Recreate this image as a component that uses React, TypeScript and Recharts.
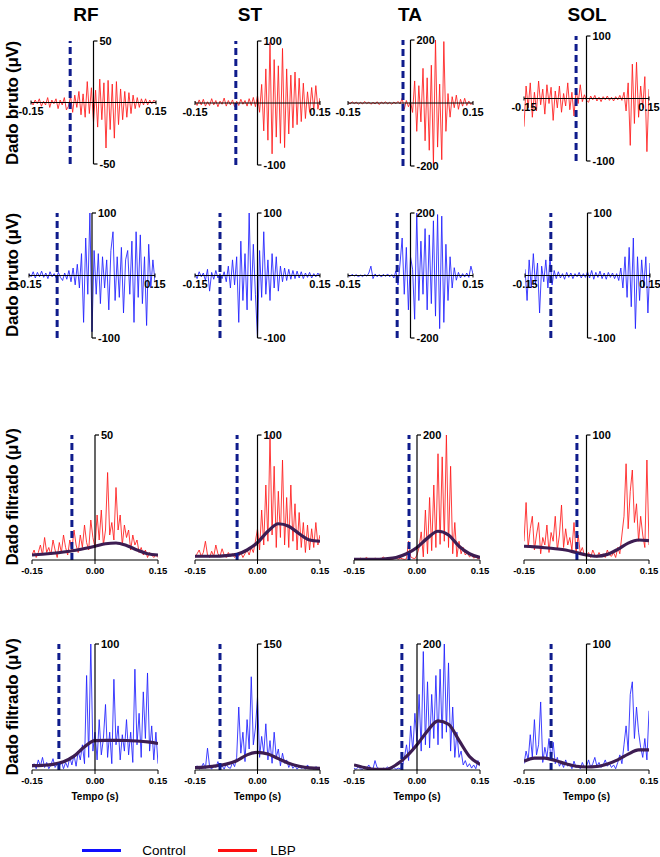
import { LineChart, Line, XAxis, YAxis, ReferenceLine } from 'recharts';

// sampling grid of the EMG windows (s)
const TIME = Array.from({ length: 61 }, (_, i) => Math.round((-0.15 + i * 0.005) * 1000) / 1000);
const ENV_TIME = [-0.15, -0.125, -0.1, -0.075, -0.05, -0.025, 0, 0.025, 0.05, 0.075, 0.1, 0.125, 0.15];

const MUSCLES = ['RF', 'ST', 'TA', 'SOL'];
const RAW_RANGE_LBP = [50, 100, 200, 100];
const RAW_RANGE_CTL = [100, 100, 200, 100];
const FIL_TOP_LBP = [50, 100, 200, 100];
const FIL_TOP_CTL = [100, 150, 200, 100];
const X_TICKS = [-0.15, 0, 0.15];

const ONSET_RAW_LBP = [-0.056, -0.052, -0.018, -0.025];
const ONSET_RAW_CTL = [-0.083, -0.09, -0.032, -0.088];
const ONSET_FIL_LBP = [-0.055, -0.049, -0.019, -0.023];
const ONSET_FIL_CTL = [-0.086, -0.09, -0.036, -0.085];

// raw signal, LBP (uV)
const RF_RAW_LBP = [1, -2, 2, -1, 3, -3, 1, -2, 4, -4, 2, -1, 3, -5, 2, -2, 4, -6, -3, 5, -8, 6, -4, 9, -10, 7, -12, 17, -9, 12, -16, 10, -20, 19, -14, 16, -37, 18, -22, 15, -29, 17, -18, 11, -14, 9, -12, 8, -9, 6, -5, 4, -4, 3, -2, 3, -2, 2, -1, 2, 0];
const ST_RAW_LBP = [3, -4, 5, -3, 6, -5, 2, -4, 7, -3, 4, -6, 3, -2, 8, -5, 4, -3, 5, -6, 3, -4, 6, -2, 4, -5, 7, -4, 9, -6, 12, -15, 30, -45, 55, -60, 98, -82, 70, -55, 60, -65, 88, -72, 55, -50, 45, -40, 50, -35, 40, -30, 32, -25, 18, -15, 25, -12, 28, -10, 8];
const TA_RAW_LBP = [2, -3, 4, -2, 3, -4, 2, -3, 5, -2, 3, -4, 2, -3, 4, -5, 3, -2, 4, -3, 2, -4, 3, -2, 5, -3, 15, -20, 8, -12, 5, -30, 70, -90, 55, -60, 110, -120, 80, -150, 120, -195, 200, -140, 60, -180, 195, -90, 30, -45, 20, -15, 25, -20, 12, -10, 15, -8, 6, -5, 3];
const SOL_RAW_LBP = [-45, 20, -15, 25, -30, 10, -20, 28, -10, 15, -25, 22, -8, 18, -35, 12, -15, 20, -22, 8, -12, 25, -18, 10, -28, 15, -8, 22, -5, 6, -3, -6, 4, -2, 5, -4, 2, -5, 3, -2, 4, -3, 2, -4, 3, -2, 5, -3, 10, -20, 25, -75, 55, -40, 58, -30, 20, -15, 35, -85, 15];

// raw signal, control (uV)
const RF_RAW_CTL = [3, -2, 6, -4, 5, -2, 7, -3, 4, -5, 6, -2, 3, -4, 5, -3, -8, 4, -6, 8, -10, 12, -15, 18, -20, 35, -75, 60, -30, 100, -90, 40, -30, 35, -45, 30, -20, 25, -55, 40, 70, -40, 30, -35, 45, -60, 25, 40, -30, 55, -75, 70, -35, 65, -45, 30, -80, 50, -20, 25, -10];
const ST_RAW_CTL = [3, -5, 6, -2, 4, -8, 10, -25, 5, -6, 8, -4, 3, -5, 6, -10, 15, -20, 25, -15, 30, -75, 55, -40, 35, -55, 100, -40, 50, -30, -100, 40, -35, 70, -30, 25, -40, 35, -20, 30, -25, 15, -10, 12, -8, 10, -6, 8, -5, 7, -4, 6, -5, 4, -3, 5, -4, 3, -2, 4, -2];
const TA_RAW_CTL = [2, -3, 4, -2, 3, -5, 2, -4, 3, -2, 8, 30, -10, 5, -4, 3, -5, 4, -3, 5, -4, 3, -8, 15, -30, 40, 120, -60, 90, -110, 60, 20, -140, 200, -80, 110, -60, 150, -110, 130, -90, 175, -130, 195, -170, 190, -150, 100, -80, 60, -40, 25, -15, 10, -8, 6, -5, 8, -6, 30, 5];
const SOL_RAW_CTL = [10, -40, 25, -20, 35, -15, 20, -60, 15, -10, 25, -20, 30, -15, 8, -5, 6, -4, 3, -6, 5, -3, 4, -5, 3, -2, 5, -4, 3, -3, 6, -4, 8, -6, 5, -3, 7, -5, 4, -6, 5, -3, 4, -5, 3, -8, 12, -20, 30, -35, 45, -50, 60, -85, 30, -40, 25, -20, 30, -60, 20];

// filtered signal, LBP (uV)
const RF_FIL_LBP = [2, 4, 1, 3, 6, 2, 9, 3, 5, 2, 8, 4, 1, 7, 3, 10, 5, 2, 8, 4, 12, 6, 3, 10, 5, 14, 7, 4, 16, 9, 5, 18, 8, 20, 6, 12, 35, 10, 15, 8, 29, 12, 18, 6, 14, 9, 12, 4, 10, 6, 8, 3, 5, 2, 4, 1, 3, 2, 1, 2, 1];
const ST_FIL_LBP = [2, 5, 8, 3, 6, 15, 4, 2, 7, 3, 12, 5, 3, 9, 4, 2, 6, 3, 5, 2, 4, 3, 6, 2, 5, 8, 4, 10, 6, 15, 25, 8, 40, 12, 60, 15, 100, 20, 75, 10, 55, 18, 80, 12, 50, 10, 60, 15, 45, 8, 38, 10, 30, 6, 28, 8, 25, 10, 30, 12, 20];
const TA_FIL_LBP = [1, 2, 1, 3, 1, 2, 4, 1, 2, 1, 3, 2, 1, 2, 5, 1, 2, 3, 1, 2, 4, 1, 3, 2, 1, 2, 30, 5, 3, 2, 8, 20, 45, 5, 80, 10, 100, 15, 120, 20, 170, 25, 165, 30, 200, 20, 150, 10, 60, 5, 30, 10, 20, 8, 12, 5, 8, 3, 5, 2, 3];
const SOL_FIL_LBP = [15, 46, 10, 25, 35, 8, 20, 30, 5, 18, 12, 28, 6, 22, 15, 35, 8, 20, 44, 10, 25, 12, 18, 8, 30, 5, 20, 6, 10, 4, 3, 6, 2, 8, 4, 2, 6, 3, 5, 2, 8, 4, 3, 6, 2, 10, 5, 20, 35, 77, 25, 55, 72, 30, 45, 15, 35, 20, 10, 80, 12];

// filtered signal, control (uV)
const RF_FIL_CTL = [2, 5, 1, 8, 3, 10, 2, 6, 1, 4, 9, 2, 5, 3, 7, 1, 6, 2, 10, 4, 12, 3, 15, 8, 20, 5, 75, 10, 100, 15, 30, 8, 40, 12, 25, 52, 10, 30, 5, 72, 20, 35, 8, 28, 15, 40, 12, 30, 6, 80, 20, 45, 10, 62, 25, 77, 15, 35, 8, 30, 5];
const ST_FIL_CTL = [2, 5, 1, 3, 8, 2, 26, 4, 1, 6, 3, 10, 2, 5, 1, 7, 3, 2, 9, 4, 15, 75, 20, 45, 10, 60, 25, 111, 30, 50, 87, 15, 40, 20, 55, 12, 35, 8, 45, 15, 25, 5, 20, 8, 12, 3, 8, 2, 5, 1, 4, 2, 3, 1, 6, 2, 3, 1, 4, 2, 3];
const TA_FIL_CTL = [3, 1, 5, 2, 1, 4, 2, 8, 3, 1, 15, 4, 2, 1, 3, 2, 5, 1, 2, 4, 1, 3, 2, 6, 20, 40, 15, 70, 30, 90, 45, 120, 30, 188, 40, 140, 35, 120, 50, 150, 40, 160, 50, 200, 60, 170, 30, 100, 20, 60, 20, 30, 8, 15, 5, 10, 3, 8, 2, 15, 6];
const SOL_FIL_CTL = [5, 15, 8, 28, 10, 40, 12, 20, 54, 6, 18, 10, 25, 8, 22, 5, 10, 3, 6, 2, 8, 3, 5, 1, 7, 2, 4, 1, 6, 2, 3, 8, 2, 5, 10, 3, 6, 2, 4, 8, 3, 5, 2, 4, 1, 6, 12, 5, 20, 35, 15, 60, 70, 25, 50, 30, 18, 10, 25, 8, 47];

// smoothed envelopes on ENV_TIME
const RF_ENV_LBP = [2, 2.3, 2.7, 3.2, 3.8, 4.6, 5.5, 6.5, 6.8, 5.8, 4, 2.5, 2];
const ST_ENV_LBP = [3, 3, 3, 3.5, 4.5, 8, 14, 23, 29, 27, 21, 16, 15];
const TA_ENV_LBP = [1, 1, 1, 2, 4, 10, 20, 35, 46, 40, 22, 10, 4];
const SOL_ENV_LBP = [11, 10.5, 9.8, 9, 8, 6, 4, 3, 4.5, 8.5, 13.5, 16, 15.5];
const RF_ENV_CTL = [3.4, 3.7, 4.5, 6.6, 11, 18.5, 23.3, 23.5, 23.5, 23.4, 23, 22.3, 21];
const ST_ENV_CTL = [3, 3.5, 5, 7, 11, 18, 21, 19, 13.5, 8, 4.5, 2.5, 2];
const TA_ENV_CTL = [8, 3.8, 1, 1, 8, 21.5, 40, 62, 78, 72.6, 47, 21.5, 9];
const SOL_ENV_CTL = [7, 9.5, 9.5, 7.5, 5, 3, 2.4, 2.8, 4.8, 8, 12.6, 15.9, 16];

const RAW_LBP = [RF_RAW_LBP, ST_RAW_LBP, TA_RAW_LBP, SOL_RAW_LBP];
const RAW_CTL = [RF_RAW_CTL, ST_RAW_CTL, TA_RAW_CTL, SOL_RAW_CTL];
const FIL_LBP = [RF_FIL_LBP, ST_FIL_LBP, TA_FIL_LBP, SOL_FIL_LBP];
const FIL_CTL = [RF_FIL_CTL, ST_FIL_CTL, TA_FIL_CTL, SOL_FIL_CTL];
const ENV_LBP = [RF_ENV_LBP, ST_ENV_LBP, TA_ENV_LBP, SOL_ENV_LBP];
const ENV_CTL = [RF_ENV_CTL, ST_ENV_CTL, TA_ENV_CTL, SOL_ENV_CTL];

const RED = '#ff1a1a';
const BLUE = '#1f1fff';
const ONSET_COLOR = '#0f1c8c';
const ENV_COLOR = '#3d1d52';

const ML = 26;
const MR = 32;
const MT = 10;
const MB = 24;

// plot boxes (left, top, width, height) per row/column
const ROW1_BOX = [[31, 41, 125, 123], [195, 41, 125, 124], [348, 40, 125, 126], [524, 36, 125, 125]];
const ROW2_BOX = [[29, 213, 126, 125], [195, 213, 125, 125], [348, 213, 125, 125], [525, 213, 125, 125]];
const ROW3_BOX = [[32, 435, 126, 125], [195, 435, 125, 125], [354, 435, 126, 125], [524, 435, 125, 125]];
const ROW4_BOX = [[32, 644, 126, 126], [195, 644, 125, 126], [354, 644, 126, 126], [524, 644, 125, 126]];

interface PanelProps {
  box: number[];
  values: number[];
  envelope?: number[];
  color: string;
  lo: number;
  hi: number;
  onset: number;
  filtered: boolean;
}

function Panel({ box, values, envelope, color, lo, hi, onset, filtered }: PanelProps) {
  const [x, y, w, h] = box;
  const data = TIME.map((t, i) => ({ t, v: values[i] }));
  const env = envelope ? ENV_TIME.map((t, i) => ({ t, v: envelope[i] })) : null;
  const dx = (0.3 * 4) / w;
  const dy = ((hi - lo) * 4) / h;
  const yFont = { fontSize: 11, fontWeight: 700, fill: '#000' };
  const xFont = filtered ? { fontSize: 9.5, fontWeight: 700, fill: '#000' } : yFont;

  return (
    <div style={{ position: 'absolute', left: x - ML, top: y - MT }}>
      <LineChart width={w + ML + MR} height={h + MT + MB} margin={{ top: MT, right: MR, bottom: MB, left: ML }}>
        <XAxis type="number" dataKey="t" domain={[-0.15, 0.15]} hide allowDataOverflow />
        <YAxis type="number" domain={[lo, hi]} hide allowDataOverflow />
        <Line data={data} dataKey="v" type="linear" stroke={color} strokeWidth={0.85} dot={false} isAnimationActive={false} />
        {env && (
          <Line data={env} dataKey="v" type="monotone" stroke={ENV_COLOR} strokeWidth={3.2} dot={false} isAnimationActive={false} />
        )}
        <ReferenceLine x={onset} stroke={ONSET_COLOR} strokeWidth={3} strokeDasharray="7 4" ifOverflow="visible" />
        <ReferenceLine y={0} stroke="#000" strokeWidth={1.2} ifOverflow="visible" />
        {filtered
          ? X_TICKS.map((t) => (
              <ReferenceLine
                key={t}
                segment={[{ x: t, y: 0 }, { x: t, y: -dy }]}
                stroke="#000"
                ifOverflow="visible"
                label={{ value: t.toFixed(2), position: 'bottom', offset: 3, ...xFont }}
              />
            ))
          : [-0.15, 0.15].map((t) => (
              <ReferenceLine
                key={t}
                segment={[{ x: t, y: -dy / 2 }, { x: t, y: dy / 2 }]}
                stroke="#000"
                ifOverflow="visible"
                label={{ value: t.toFixed(2), position: 'bottom', offset: 3, ...xFont }}
              />
            ))}
        <ReferenceLine segment={[{ x: 0, y: filtered ? 0 : lo }, { x: 0, y: hi }]} stroke="#000" strokeWidth={1.2} ifOverflow="visible" />
        <ReferenceLine
          segment={[{ x: 0, y: hi }, { x: dx, y: hi }]}
          stroke="#000"
          strokeWidth={1.2}
          ifOverflow="visible"
          label={{ value: String(hi), position: 'right', offset: 2, ...yFont }}
        />
        {!filtered && (
          <ReferenceLine
            segment={[{ x: 0, y: lo }, { x: dx, y: lo }]}
            stroke="#000"
            strokeWidth={1.2}
            ifOverflow="visible"
            label={{ value: String(lo), position: 'right', offset: 2, ...yFont }}
          />
        )}
      </LineChart>
    </div>
  );
}

const centerText = (left: number, top: number, style: React.CSSProperties = {}): React.CSSProperties => ({
  position: 'absolute',
  left,
  top,
  transform: 'translate(-50%, -50%)',
  whiteSpace: 'nowrap',
  ...style,
});

const rowLabel = (top: number): React.CSSProperties => ({
  position: 'absolute',
  left: 13,
  top,
  transform: 'translate(-50%, -50%) rotate(-90deg)',
  whiteSpace: 'nowrap',
  fontSize: 17,
  fontWeight: 700,
  letterSpacing: -0.3,
});

const TITLE_X = [86, 250, 410, 587];

export default function App() {
  return (
    <div
      style={{
        position: 'absolute',
        left: 0,
        top: 0,
        width: 660,
        height: 857,
        background: '#fff',
        fontFamily: '"Liberation Sans", Arial, sans-serif',
        color: '#000',
        overflow: 'hidden',
      }}
    >
      {MUSCLES.map((m, i) => (
        <div key={m} style={centerText(TITLE_X[i], 15, { fontSize: 19, fontWeight: 700 })}>
          {m}
        </div>
      ))}

      <div style={rowLabel(103)}>Dado bruto (μV)</div>
      <div style={rowLabel(275)}>Dado bruto (μV)</div>
      <div style={rowLabel(497)}>Dado filtrado (μV)</div>
      <div style={rowLabel(707)}>Dado filtrado (μV)</div>

      {MUSCLES.map((m, i) => (
        <Panel key={'r1' + m} box={ROW1_BOX[i]} values={RAW_LBP[i]} color={RED} lo={-RAW_RANGE_LBP[i]} hi={RAW_RANGE_LBP[i]} onset={ONSET_RAW_LBP[i]} filtered={false} />
      ))}
      {MUSCLES.map((m, i) => (
        <Panel key={'r2' + m} box={ROW2_BOX[i]} values={RAW_CTL[i]} color={BLUE} lo={-RAW_RANGE_CTL[i]} hi={RAW_RANGE_CTL[i]} onset={ONSET_RAW_CTL[i]} filtered={false} />
      ))}
      {MUSCLES.map((m, i) => (
        <Panel key={'r3' + m} box={ROW3_BOX[i]} values={FIL_LBP[i]} envelope={ENV_LBP[i]} color={RED} lo={0} hi={FIL_TOP_LBP[i]} onset={ONSET_FIL_LBP[i]} filtered />
      ))}
      {MUSCLES.map((m, i) => (
        <Panel key={'r4' + m} box={ROW4_BOX[i]} values={FIL_CTL[i]} envelope={ENV_CTL[i]} color={BLUE} lo={0} hi={FIL_TOP_CTL[i]} onset={ONSET_FIL_CTL[i]} filtered />
      ))}

      {ROW4_BOX.map((b, i) => (
        <div key={'tempo' + i} style={centerText(b[0] + b[2] / 2, 796, { fontSize: 10, fontWeight: 700 })}>
          Tempo (s)
        </div>
      ))}

      <div style={{ position: 'absolute', left: 82, top: 849, width: 39, height: 3, background: '#1010ff' }} />
      <div style={centerText(164, 850, { fontSize: 13.5 })}>Control</div>
      <div style={{ position: 'absolute', left: 218, top: 849, width: 39, height: 3, background: '#ff1010' }} />
      <div style={centerText(283, 850, { fontSize: 13.5 })}>LBP</div>
    </div>
  );
}
